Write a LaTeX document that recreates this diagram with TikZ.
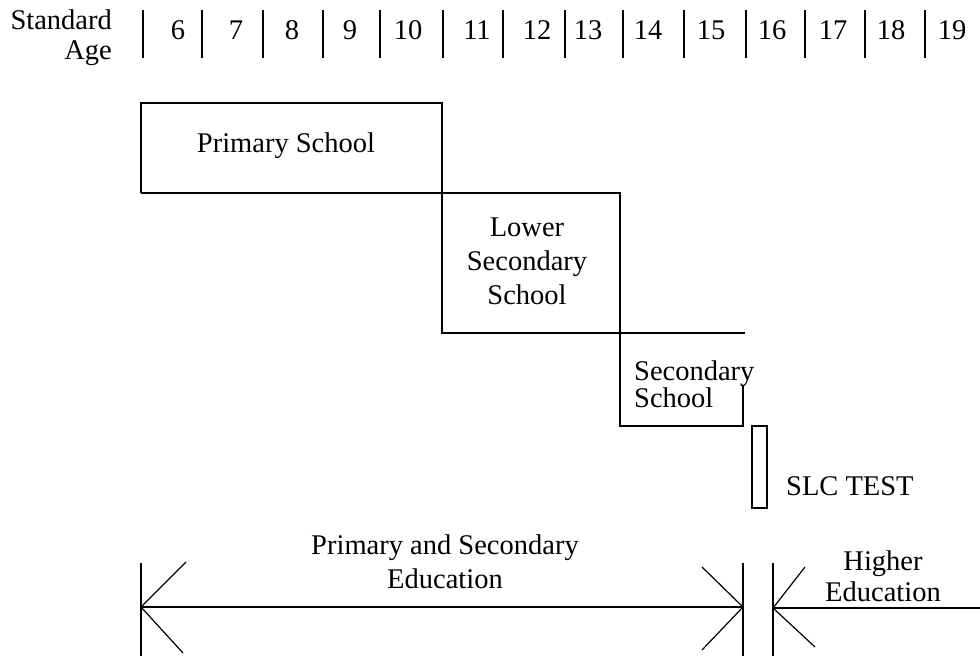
\documentclass[tikz,border=0pt]{standalone}
\usepackage{fontspec}
\setmainfont{Liberation Serif}
\usetikzlibrary{positioning}

\begin{document}
\begin{tikzpicture}
    [x=1pt,y=-1pt,line width=2.3pt,
     every node/.style={inner sep=0pt, font=\fontsize{28.5}{34}\selectfont},
     agebar/.style={line width=1.6pt},
     span/.style={line width=1.2pt}]
  \useasboundingbox (0,0) rectangle (980,656);

  % header row
  \node[anchor=base east] (std) at (113,29) {Standard};
  \node[anchor=base east] (age) at (113,59) {Age};
  \foreach \b/\x/\a in {143/178/6, 202/236/7, 263/292/8, 323/350/9, 380/408/10, 443/477/11, 503/537/12,
                        565/588/13, 623/648/14, 684/711/15, 746/772/16, 805/833/17, 865/891/18, 925/952/19}
  {
    \draw[agebar] (\b,10) -- (\b,58);
    \node[anchor=base] (yr\a) at (\x,39) {\a};
  }

  % school stages
  \coordinate (ps-nw) at (141,103);
  \coordinate (ps-ne) at (442,103);
  \coordinate (ps-sw) at (141,193);
  \coordinate (ls-ne) at (620,193);
  \coordinate (ls-sw) at (442,333);
  \coordinate (ls-e)  at (745,333);
  \coordinate (ss-sw) at (620,426);
  \coordinate (ss-se) at (743,426);
  \coordinate (ss-ne) at (743,385);
  \draw (ps-sw) -- (ps-nw) -- (ps-ne) -- (ls-sw) -- (ls-e);
  \draw (ps-sw) -- (ls-ne) -- (ss-sw) -- (ss-se) -- (ss-ne);

  \node[anchor=base] (ps) at (286,152) {Primary School};
  \node[align=center, anchor=north] (ls) at (527,216.5) {Lower\\Secondary\\School};
  \node[align=left, anchor=north west, font=\fontsize{28.5}{25}\selectfont] (ss) at (633,360) {Secondary\\School};

  % SLC test
  \coordinate (slc-sw) at (752,508);
  \coordinate (slc-ne) at (767,426);
  \draw (slc-sw) rectangle (slc-ne);
  \node[anchor=base west] (slc) at (785,495) {SLC TEST};

  % spans
  \coordinate (pse-l) at (141,607);
  \coordinate (pse-r) at (743,607);
  \coordinate (he-l) at (773,608);
  \coordinate (he-r) at (980,608);
  \draw[span] (141,563) -- (141,656);
  \draw[span] (743,563) -- (743,656);
  \draw[span] (773,563) -- (773,656);
  \draw[span] (pse-l) -- (pse-r);
  \draw[span] (he-l) -- (he-r);
  \draw[span] (186,562) -- (pse-l) -- (183,653);
  \draw[span] (702,567) -- (pse-r) -- (702,650);
  \draw[span] (805,567) -- (he-l) -- (815,647);

  \node[align=center, anchor=north] (pse) at (445,533.5) {Primary and Secondary\\Education};
  \node[align=center, anchor=north, font=\fontsize{28.5}{31}\selectfont] (he) at (883,550) {Higher\\Education};
\end{tikzpicture}
\end{document}
